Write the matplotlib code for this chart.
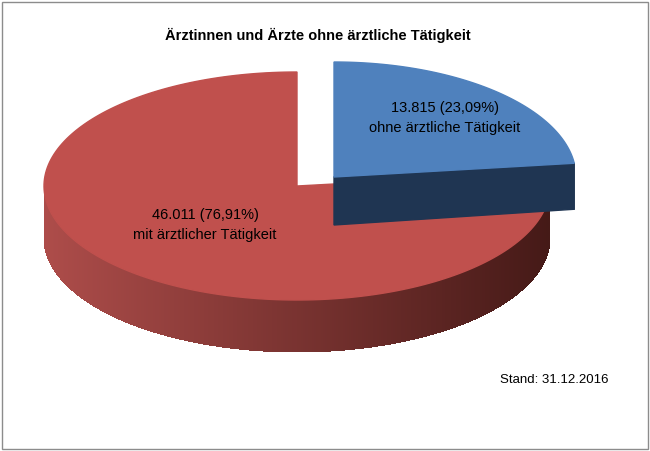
import numpy as np
import matplotlib.pyplot as plt
from matplotlib.patches import Polygon, Rectangle

labels = ['ohne ärztliche Tätigkeit', 'mit ärztlicher Tätigkeit']
values = [13815, 46011]
value_text = ['13.815', '46.011']
pct_text = ['23,09%', '76,91%']

plt.rcParams['font.family'] = 'Liberation Sans'

fig = plt.figure(figsize=(6.5, 4.51), dpi=100)
ax = fig.add_axes([0, 0, 1, 1])
ax.set_xlim(0, 650)
ax.set_ylim(451, 0)
ax.axis('off')
ax.add_patch(Rectangle((1.5, 1.5), 646, 447, fill=False, ec='#8c8c8c', lw=1))

depth = 52
total = sum(values)
frac_blue = values[0] / total
a_blue0 = 90 - frac_blue * 360

def pt(c, a, rx, ry, dz=0):
    t = np.radians(a)
    return (c[0] + rx * np.cos(t), c[1] - ry * np.sin(t) + dz)

def top(c, a0, a1, rx, ry):
    ts = np.linspace(a0, a1, 200)
    return [c] + [pt(c, t, rx, ry) for t in ts]

# red slice
cr = (297, 186)
rrx, rry = 253, 114
r0, r1 = 90, a_blue0 + 360
ts = np.linspace(180, 360, 361)
for i in range(len(ts) - 1):
    p = [pt(cr, ts[i], rrx, rry), pt(cr, ts[i + 1] + 0.3, rrx, rry),
         pt(cr, ts[i + 1] + 0.3, rrx, rry, depth), pt(cr, ts[i], rrx, rry, depth)]
    f = (np.cos(np.radians(ts[i])) + 1) / 2
    col = np.array([0.68, 0.30, 0.29]) * (1 - f) + np.array([0.27, 0.10, 0.09]) * f
    ax.add_patch(Polygon(p, closed=True, fc=col, ec='none', antialiased=False))
ax.add_patch(Polygon(top(cr, r0, r1, rrx, rry), closed=True, fc='#c0504d', ec='#c0504d'))

# blue slice (exploded)
cb = (334, 177)
brx, bry = 242, 115
e = pt(cb, a_blue0, brx, bry)
face = [cb, e, (e[0], e[1] + depth - 6), (cb[0], cb[1] + depth - 4)]
ax.add_patch(Polygon(face, closed=True, fc='#1f3552', ec='#1f3552'))
ax.add_patch(Polygon(top(cb, a_blue0, 90, brx, bry), closed=True, fc='#4f81bd', ec='#4f81bd'))

ax.text(445, 118, f'{value_text[0]} ({pct_text[0]})\n{labels[0]}', ha='center', va='center',
        fontsize=10.5, linespacing=1.5)
ax.text(205, 225, f'{value_text[1]} ({pct_text[1]})\n{labels[1]}', ha='center', va='center',
        fontsize=10.5, linespacing=1.5)
ax.text(318, 35, 'Ärztinnen und Ärzte ohne ärztliche Tätigkeit', ha='center', va='center',
        fontsize=10.5, fontweight='bold')
ax.text(500, 380, 'Stand: 31.12.2016', ha='left', va='center', fontsize=9.5)

fig.savefig('out.png', dpi=100)
